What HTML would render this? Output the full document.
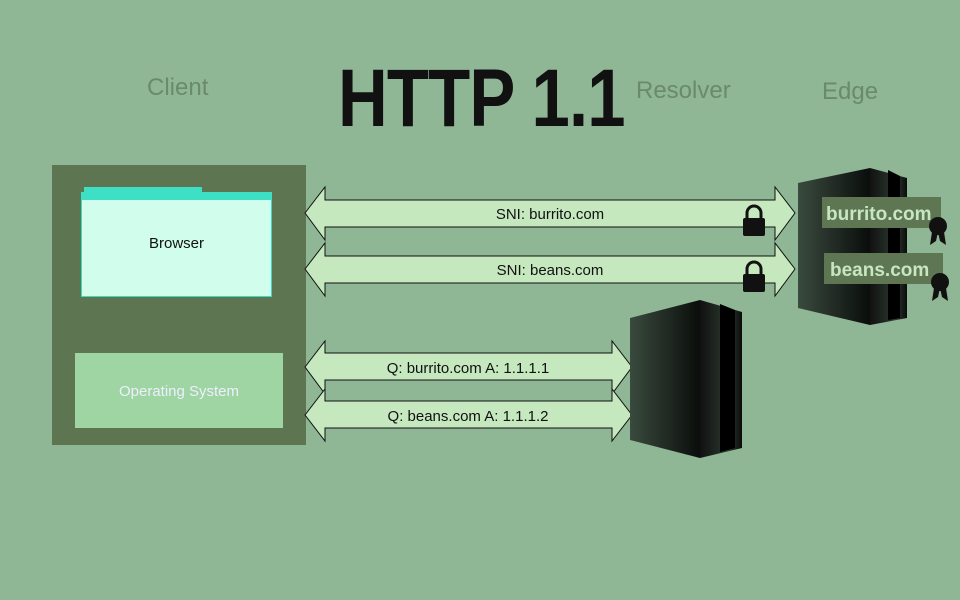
<!DOCTYPE html>
<html><head><style>
body{margin:0;width:960px;height:600px;background:#8fb695;overflow:hidden;position:relative;font-family:"Liberation Sans",sans-serif}
.t{position:absolute;color:#6a8a6c;font-size:24px}
</style></head><body>
<div class="t" style="left:147px;top:74px">Client</div>
<div class="t" style="left:636px;top:77px">Resolver</div>
<div class="t" style="left:822px;top:78px">Edge</div>
<div style="position:absolute;left:338px;top:52px;font-size:82px;font-weight:bold;color:#111;transform:scaleX(0.84);transform-origin:0 0;letter-spacing:-1px">HTTP 1.1</div>
<div style="position:absolute;left:52px;top:165px;width:254px;height:280px;background:#5e7552"></div>
<div style="position:absolute;left:81px;top:192px;width:191px;height:105px;background:#d0fdec;border:1px solid #39dcc0;box-sizing:border-box"></div>
<div style="position:absolute;left:81px;top:192px;width:191px;height:8px;background:#3de0c5"></div>
<div style="position:absolute;left:84px;top:187px;width:118px;height:5px;background:#3de0c5"></div>
<div style="position:absolute;left:81px;top:235px;width:191px;text-align:center;font-size:15px;color:#111">Browser</div>
<div style="position:absolute;left:75px;top:353px;width:208px;height:75px;background:#9ed5a3"></div>
<div style="position:absolute;left:75px;top:383px;width:208px;text-align:center;font-size:15px;color:#eef">Operating System</div>
<svg width="960" height="600" style="position:absolute;left:0;top:0">
<defs>
<linearGradient id="g" x1="0" x2="1"><stop offset="0" stop-color="#3a4a3e"/><stop offset="1" stop-color="#0a0d0b"/></linearGradient>
<linearGradient id="g2" x1="0" x2="1"><stop offset="0" stop-color="#111"/><stop offset="0.7" stop-color="#2d3a30"/><stop offset="1" stop-color="#0b0b0b"/></linearGradient>
</defs>
<g fill="#c6e8bf" stroke="#111" stroke-width="1">
<polygon points="305,213 325,187 325,200 775,200 775,187 795,213 775,240 775,227 325,227 325,240"/>
<polygon points="305,269 325,243 325,256 775,256 775,243 795,269 775,296 775,283 325,283 325,296"/>
<polygon points="305,367 325,341 325,353 612,353 612,341 632,367 612,394 612,380 325,380 325,394"/>
<polygon points="305,415 325,389 325,401 612,401 612,389 632,415 612,441 612,428 325,428 325,441"/>
</g>
<g font-size="15" fill="#111" text-anchor="middle">
<text x="550" y="219">SNI: burrito.com</text>
<text x="550" y="275">SNI: beans.com</text>
<text x="468" y="373">Q: burrito.com A: 1.1.1.1</text>
<text x="468" y="421">Q: beans.com A: 1.1.1.2</text>
</g>
<g fill="#111">
<rect x="743" y="218" width="22" height="18" rx="2"/><path d="M747,218v-5a7,7 0 0 1 14,0v5" fill="none" stroke="#111" stroke-width="3"/>
<rect x="743" y="274" width="22" height="18" rx="2"/><path d="M747,274v-5a7,7 0 0 1 14,0v5" fill="none" stroke="#111" stroke-width="3"/>
</g>
<polygon points="798,183 870,168 870,325 798,308" fill="url(#g)"/>
<polygon points="870,168 907,178 907,318 870,325" fill="url(#g2)"/>
<polygon points="888,170 900,176 900,318 888,320" fill="#000"/>
<polygon points="630,318 700,300 700,458 630,440" fill="url(#g)"/>
<polygon points="700,300 742,312 742,448 700,458" fill="url(#g2)"/>
<polygon points="720,304 735,310 735,448 720,452" fill="#000"/>
<rect x="822" y="197" width="119" height="31" fill="#5f7652"/>
<rect x="824" y="253" width="119" height="31" fill="#5f7652"/>
<text x="826" y="220" font-size="19" font-weight="bold" fill="#c7e6c2">burrito.com</text>
<text x="830" y="276" font-size="19" font-weight="bold" fill="#c7e6c2">beans.com</text>
<g fill="#111"><circle cx="938" cy="226" r="9"/><polygon points="932,232 930,245 936,241 938,232"/><polygon points="944,232 946,245 940,241 938,232"/>
<circle cx="940" cy="282" r="9"/><polygon points="934,288 932,301 938,297 940,288"/><polygon points="946,288 948,301 942,297 940,288"/></g>
</svg>
</body></html>
